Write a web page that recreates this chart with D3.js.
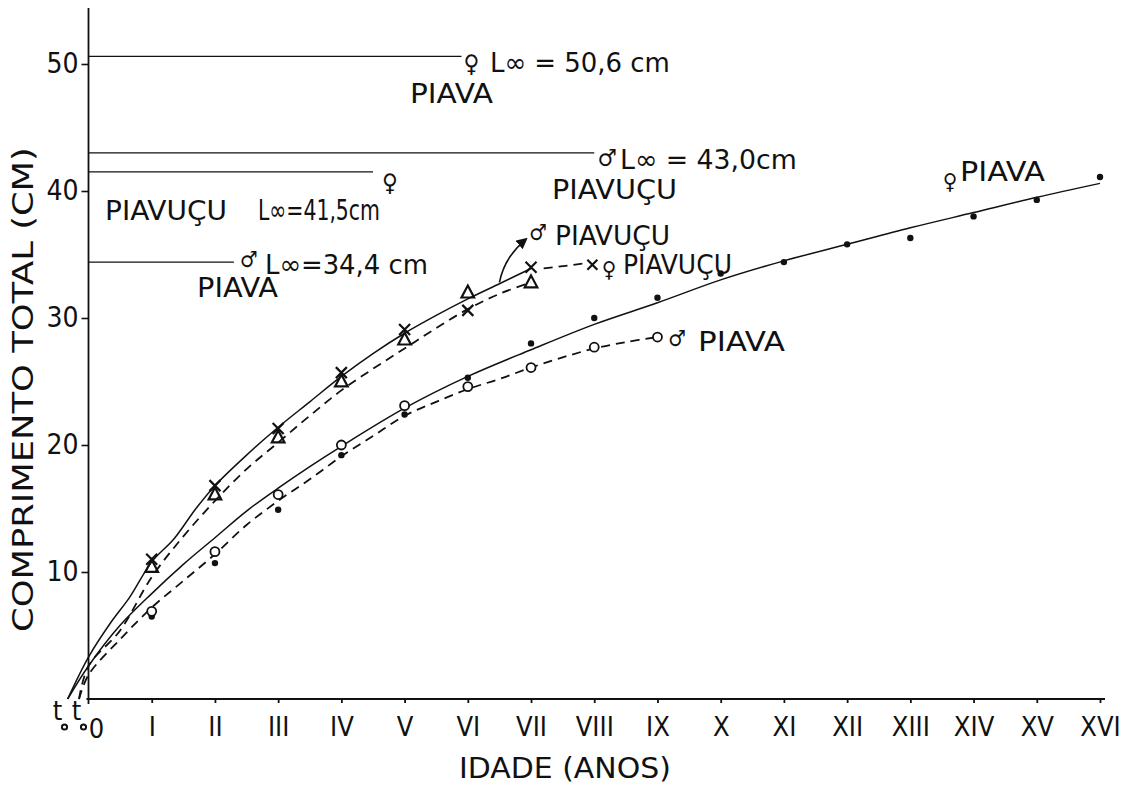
<!DOCTYPE html>
<html>
<head>
<meta charset="utf-8">
<script src="https://cdn.jsdelivr.net/npm/d3@7/dist/d3.min.js"></script>
<style>
  html, body { margin: 0; padding: 0; background: #fff; }
  svg { display: block; }
  text { font-family: "DejaVu Sans Condensed", "DejaVu Sans", sans-serif; fill: #111; }
</style>
</head>
<body>
<svg id="chart" width="1127" height="786"></svg>
<script>
// Age classes (years) and their roman-numeral labels
const ageLabels = ["I","II","III","IV","V","VI","VII","VIII","IX","X","XI","XII","XIII","XIV","XV","XVI"];
const lengthTicks = [10, 20, 30, 40, 50];

// Observed mean total length (cm) per age class
const piavaFemaleObs  = [6.5, 10.7, 14.9, 19.2, 22.4, 25.3, 28.0, 30.0, 31.6, 33.5, 34.4, 35.8, 36.3, 38.0, 39.3, 41.1]; // dots, ages I–XVI
const piavaMaleObs    = [6.9, 11.6, 16.1, 20.0, 23.1, 24.6, 26.1, 27.7, 28.5];   // open circles, ages I–IX
const piavucuCrossObs = [11.0, 16.8, 21.3, 25.7, 29.1, 30.6, 34.0];              // crosses, ages I–VII
const piavucuTriObs   = [10.4, 16.1, 20.6, 25.0, 28.3, 32.0, 32.8];              // triangles, ages I–VII

// Growth curves as drawn [age, length]
const piavaFemaleCurve = [[-0.33,0],[0,2.6],[0.5,5.8],[1,8.3],[1.5,10.6],[2,12.7],[2.5,14.8],[3,16.6],[3.5,18.3],[4,19.9],[5,22.9],[6,25.4],[7,27.5],[8,29.5],[9,31.2],[10,33.0],[11,34.5],[12,35.8],[13,37.1],[14,38.3],[15,39.5],[16,40.6]];
const piavaMaleCurve   = [[-0.15,0],[0,1.9],[0.5,4.7],[1,7.2],[1.5,9.3],[2,11.4],[2.5,13.7],[3,15.6],[3.5,17.3],[4,19.1],[4.5,20.7],[5,22.3],[5.5,23.4],[6,24.4],[6.5,25.2],[7,26.1],[7.5,26.9],[8,27.6],[8.5,28.1],[9,28.5]];
const piavucuSolidCurve = [[-0.33,0],[0,3.3],[0.35,6.0],[0.65,8.0],[1,10.8],[1.35,12.6],[1.7,15.0],[2,16.8],[2.5,19.2],[3,21.4],[3.5,23.4],[4,25.4],[4.5,27.2],[5,28.8],[5.5,30.2],[6,31.5],[6.5,32.7],[7,33.9]];
const piavucuDashCurve  = [[-0.15,0],[0,2.6],[0.5,5.4],[1,9.6],[1.5,12.8],[2,15.6],[2.5,18.1],[3,20.2],[3.5,22.3],[4,24.3],[4.5,26.0],[5,27.6],[5.5,29.2],[6,30.7],[6.5,31.9],[7,32.8]];

// Asymptotic lengths L∞ (cm) and the age where each reference line stops
const linfValues = [50.6, 43.0, 41.5, 34.4];
const linfEndAge = [5.9, 8.0, 4.5, 2.3];

const svg = d3.select("#chart");
const x = d3.scaleLinear().domain([0, 16]).range([88.5, 1100]);
const y = d3.scaleLinear().domain([0, 50]).range([699, 64]);

// ---- axes ----
const yAxis = d3.axisLeft(y).tickValues(lengthTicks).tickSize(7).tickPadding(3).tickSizeOuter(0);
const gy = svg.append("g").attr("transform", `translate(${x(0)},0)`).call(yAxis);
gy.select(".domain").remove();
gy.selectAll(".tick line").attr("stroke", "#111").attr("stroke-width", 1.6);
gy.selectAll(".tick text").attr("font-size", 28).attr("fill", "#111");

const xAxis = d3.axisBottom(x).tickValues(d3.range(1, 17)).tickSize(4).tickPadding(14)
  .tickFormat(d => ageLabels[d - 1]).tickSizeOuter(0);
const gx = svg.append("g").attr("transform", `translate(0,${y(0)})`).call(xAxis);
gx.select(".domain").remove();
gx.selectAll(".tick line").attr("stroke", "#111").attr("stroke-width", 1.8);
gx.selectAll(".tick text").attr("font-size", 27).attr("fill", "#111");

svg.append("line").attr("x1", x(0)).attr("x2", x(0)).attr("y1", y(0) + 5).attr("y2", y(54.4))
  .attr("stroke", "#111").attr("stroke-width", 1.8);
svg.append("line").attr("x1", x(0) - 2).attr("x2", x(16) + 5).attr("y1", y(0)).attr("y2", y(0))
  .attr("stroke", "#111").attr("stroke-width", 1.8);

svg.append("text").attr("x", x(0) + 8).attr("y", y(0) + 39).attr("font-size", 27)
  .attr("text-anchor", "middle").text("0");

// t0 marks left of the origin
[x(0) - 31, x(0) - 12].forEach(tx => {
  svg.append("text").attr("x", tx).attr("y", y(0) + 21).attr("font-size", 27)
    .attr("text-anchor", "middle").text("t");
  svg.append("circle").attr("cx", tx + 7).attr("cy", y(0) + 28).attr("r", 2.6)
    .attr("fill", "#fff").attr("stroke", "#111").attr("stroke-width", 2);
});

// ---- labels (stretched horizontally to a given width, height kept) ----
function label(px, py, str, size, len) {
  const g = svg.append("g");
  const t = g.append("text").attr("font-size", size).text(str);
  const natural = t.node().getComputedTextLength();
  const sx = len ? len / natural : 1;
  g.attr("transform", `translate(${px},${py}) scale(${sx},1)`);
  return g;
}
function sym(px, py, str, size) {
  return svg.append("text").attr("x", px).attr("y", py).attr("font-size", size || 24)
    .attr("text-anchor", "middle").text(str);
}

// axis titles
const yTitle = svg.append("g").attr("transform", `translate(33,${y(0) - 67}) rotate(-90)`);
{
  const t = yTitle.append("text").attr("font-size", 28).text("COMPRIMENTO TOTAL (CM)");
  t.attr("transform", `scale(${485 / t.node().getComputedTextLength()},1)`);
}
label(459, 778, "IDADE (ANOS)", 28, 212);

// ---- L∞ reference lines ----
linfValues.forEach((v, i) => {
  svg.append("line").attr("x1", x(0)).attr("x2", x(linfEndAge[i]))
    .attr("y1", y(v)).attr("y2", y(v)).attr("stroke", "#111").attr("stroke-width", 1.3);
});

// ---- growth curves ----
const line = d3.line().x(d => x(d[0])).y(d => y(d[1])).curve(d3.curveCatmullRom.alpha(0.5));
function curve(data, dashed) {
  svg.append("path").attr("d", line(data)).attr("fill", "none").attr("stroke", "#111")
    .attr("stroke-width", dashed ? 1.8 : 1.5)
    .attr("stroke-dasharray", dashed ? "9 6" : null);
}
curve(piavaFemaleCurve, false);
curve(piavaMaleCurve, true);
curve(piavucuSolidCurve, false);
curve(piavucuDashCurve, true);

// ---- markers ----
function crossPath(cx, cy, s) {
  return `M${cx - s},${cy - s}L${cx + s},${cy + s}M${cx + s},${cy - s}L${cx - s},${cy + s}`;
}
function triPath(cx, cy, s) {
  return `M${cx},${cy - s}L${cx + s * 0.9},${cy + s * 0.7}L${cx - s * 0.9},${cy + s * 0.7}Z`;
}
svg.append("g").selectAll("circle").data(piavaFemaleObs).join("circle")
  .attr("cx", (d, i) => x(i + 1)).attr("cy", d => y(d)).attr("r", 3.2).attr("fill", "#111");
svg.append("g").selectAll("circle").data(piavaMaleObs).join("circle")
  .attr("cx", (d, i) => x(i + 1)).attr("cy", d => y(d)).attr("r", 4.5)
  .attr("fill", "#fff").attr("stroke", "#111").attr("stroke-width", 1.8);
svg.append("g").selectAll("path").data(piavucuTriObs).join("path")
  .attr("d", (d, i) => triPath(x(i + 1), y(d), 7)).attr("fill", "none")
  .attr("stroke", "#111").attr("stroke-width", 2.2);
svg.append("g").selectAll("path").data(piavucuCrossObs).join("path")
  .attr("d", (d, i) => crossPath(x(i + 1), y(d), 5.5)).attr("fill", "none")
  .attr("stroke", "#111").attr("stroke-width", 2.2);

// L∞ = 50,6 cm (female piava)
sym(x(5.9) + 10, y(50.6) + 16, "♀", 24);
label(490, y(50.6) + 16, "L∞ = 50,6 cm", 27, 180);
label(410, y(50.6) + 47, "PIAVA", 27, 83);

// L∞ = 43,0 cm (male piavuçu)
sym(x(8.0) + 13, y(43.0) + 13, "♂", 24);
label(620, y(43.0) + 16, "L∞ = 43,0cm", 27, 177);
label(552, y(43.0) + 46, "PIAVUÇU", 27, 125);

// L∞ = 41,5 cm (female piavuçu)
sym(x(4.5) + 17, y(41.5) + 19, "♀", 24);
label(105, y(41.5) + 48, "PIAVUÇU", 27, 122);
label(258, y(41.5) + 48, "L∞=41,5cm", 28, 122);

// L∞ = 34,4 cm (male piava)
sym(x(2.3) + 15, y(34.4) + 5, "♂", 22);
label(265, y(34.4) + 12, "L∞=34,4 cm", 27, 163);
label(197, y(34.4) + 35, "PIAVA", 27, 81);

// male piavuçu leader arrow
svg.append("defs").append("marker").attr("id", "arrow").attr("viewBox", "0 0 10 10")
  .attr("refX", 8).attr("refY", 5).attr("markerWidth", 7).attr("markerHeight", 7)
  .attr("orient", "auto").append("path").attr("d", "M0,0L10,5L0,10Z").attr("fill", "#111");
svg.append("path")
  .attr("d", `M${x(6.5)},${y(32.8)}Q${x(6.58)},${y(34.8)} ${x(6.92)},${y(36.2)}`)
  .attr("fill", "none").attr("stroke", "#111").attr("stroke-width", 1.6)
  .attr("marker-end", "url(#arrow)");
sym(538, y(36.2) + 1, "♂", 22);
label(555, y(36.2) + 6, "PIAVUÇU", 27, 115);

// female piavuçu dashed leader
svg.append("path").attr("d", `M${x(7.2)},${y(33.9)}L${x(7.85)},${y(34.3)}`)
  .attr("stroke", "#111").attr("stroke-width", 1.8).attr("stroke-dasharray", "9 6");
svg.append("path").attr("d", crossPath(x(7.97), y(34.2), 5)).attr("stroke", "#111")
  .attr("stroke-width", 2.2).attr("fill", "none");
sym(609, y(34.2) + 12, "♀", 22);
label(623, y(34.2) + 9, "PIAVUÇU", 27, 109);

// male piava
sym(677, y(28.5) + 9, "♂", 22);
label(698, y(28.5) + 14, "PIAVA", 27, 87);

// female piava
sym(950, y(41.0) + 11, "♀", 22);
label(960, y(41.0) + 3, "PIAVA", 27, 85);
</script>
</body>
</html>
